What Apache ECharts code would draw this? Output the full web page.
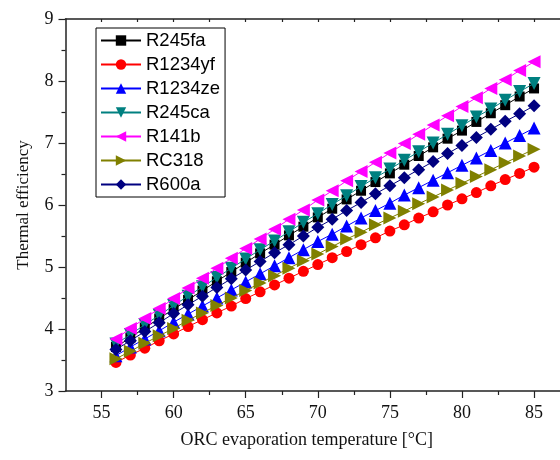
<!DOCTYPE html>
<html>
<head>
<meta charset="utf-8">
<script src="https://cdn.jsdelivr.net/npm/echarts@6/dist/echarts.min.js"></script>
<style>html,body{margin:0;padding:0;background:#fff}#c{width:560px;height:460px}</style>
</head>
<body>
<div id="c"></div>
<script>
const temps = [56,57,58,59,60,61,62,63,64,65,66,67,68,69,70,71,72,73,74,75,76,77,78,79,80,81,82,83,84,85];
const R245fa  = [3.71,3.86,4.02,4.17,4.32,4.47,4.62,4.77,4.92,5.07,5.22,5.36,5.51,5.65,5.80,5.94,6.09,6.23,6.37,6.51,6.65,6.79,6.93,7.07,7.20,7.34,7.48,7.61,7.75,7.88];
const R1234yf = [3.46,3.58,3.69,3.81,3.92,4.04,4.15,4.26,4.37,4.49,4.60,4.71,4.82,4.93,5.04,5.15,5.25,5.36,5.47,5.58,5.68,5.79,5.89,6.00,6.10,6.20,6.31,6.41,6.51,6.61];
const R1234ze = [3.57,3.71,3.84,3.97,4.11,4.24,4.37,4.50,4.63,4.76,4.89,5.02,5.15,5.28,5.41,5.53,5.66,5.79,5.91,6.03,6.16,6.28,6.40,6.52,6.64,6.76,6.88,7.00,7.12,7.24];
const R245ca  = [3.76,3.91,4.07,4.22,4.38,4.53,4.68,4.83,4.98,5.13,5.28,5.42,5.57,5.72,5.86,6.01,6.15,6.30,6.44,6.58,6.72,6.86,7.00,7.14,7.28,7.42,7.55,7.69,7.83,7.96];
const R141b   = [3.84,4.01,4.17,4.33,4.49,4.66,4.82,4.98,5.14,5.30,5.45,5.61,5.77,5.92,6.08,6.23,6.39,6.54,6.69,6.84,6.99,7.14,7.29,7.44,7.59,7.73,7.88,8.02,8.17,8.31];
const RC318   = [3.52,3.64,3.77,3.89,4.01,4.14,4.26,4.38,4.50,4.62,4.74,4.86,4.98,5.10,5.21,5.33,5.45,5.56,5.68,5.79,5.90,6.02,6.13,6.24,6.35,6.46,6.57,6.68,6.79,6.90];
const R600a   = [3.67,3.81,3.96,4.10,4.25,4.39,4.53,4.67,4.81,4.95,5.09,5.23,5.36,5.50,5.64,5.77,5.91,6.04,6.18,6.31,6.44,6.57,6.70,6.83,6.96,7.09,7.22,7.35,7.47,7.60];
const xMajorTicks = [55,60,65,70,75,80,85];
const xMinorTicks = [57.5,62.5,67.5,72.5,77.5,82.5];
const xTopTicks = [55,57.5,60,62.5,65,67.5,70,72.5,75,77.5,80,82.5,85];

const seriesDefs = [
  {name:'R245fa', data:R245fa, color:'#000000', symbol:'rect', size:10, rot:0},
  {name:'R1234yf', data:R1234yf, color:'#ff0000', symbol:'circle', size:11, rot:0},
  {name:'R1234ze', data:R1234ze, color:'#0000ff', symbol:'triangle', size:13, rot:0},
  {name:'R245ca', data:R245ca, color:'#008080', symbol:'triangle', size:13, rot:180},
  {name:'R141b', data:R141b, color:'#ff00ff', symbol:'triangle', size:13, rot:90},
  {name:'RC318', data:RC318, color:'#808000', symbol:'triangle', size:13, rot:-90},
  {name:'R600a', data:R600a, color:'#000080', symbol:'diamond', size:13, rot:0}
];

const serif = 'Liberation Serif';
const axisCol = '#222';
const chart = echarts.init(document.getElementById('c'), null, {renderer:'canvas'});
chart.setOption({
  animation:false,
  backgroundColor:'#fff',
  grid:{left:65.5, top:19, right:0, bottom:69, containLabel:false},
  legend:{
    orient:'vertical', left:96, top:28,
    itemWidth:40, itemHeight:13, itemGap:5,
    padding:[3,5,3,4],
    borderColor:'#000', borderWidth:1,
    textStyle:{fontFamily:'Liberation Sans', fontSize:18.5, color:'#000'},
    data:seriesDefs.map(s=>s.name)
  },
  xAxis:[
    {type:'value', min:52.5, max:86.8, position:'bottom',
     axisLine:{show:true, onZero:false, lineStyle:{color:axisCol, width:1.5}},
     axisTick:{show:true, inside:false, length:7, customValues:xMajorTicks, lineStyle:{color:axisCol, width:1.2}},
     axisLabel:{show:true, customValues:xMajorTicks, margin:13, fontFamily:serif, fontSize:18, color:'#111'},
     splitLine:{show:false},
     name:'ORC evaporation temperature [°C]', nameLocation:'middle', nameGap:40,
     nameTextStyle:{fontFamily:serif, fontSize:18, color:'#111', padding:[0,12,0,0]}},
    {type:'value', min:52.5, max:86.8, position:'bottom',
     axisLine:{show:false, onZero:false},
     axisTick:{show:true, inside:false, length:4, customValues:xMinorTicks, lineStyle:{color:axisCol, width:1.2}},
     axisLabel:{show:false}, splitLine:{show:false}},
    {type:'value', min:52.5, max:86.8, position:'top',
     axisLine:{show:true, onZero:false, lineStyle:{color:axisCol, width:1.5}},
     axisTick:{show:true, inside:true, length:3, customValues:xTopTicks, lineStyle:{color:axisCol, width:1.2}},
     axisLabel:{show:false}, splitLine:{show:false}}
  ],
  yAxis:[{
    type:'value', min:3, max:9, interval:1,
    axisLine:{show:true, onZero:false, lineStyle:{color:axisCol, width:1.5}},
    axisTick:{show:true, inside:false, length:7, lineStyle:{color:axisCol, width:1.2}},
    minorTick:{show:true, splitNumber:2, length:4, lineStyle:{color:axisCol, width:1.2}},
    axisLabel:{margin:12, fontFamily:serif, fontSize:18, color:'#111'},
    splitLine:{show:false},
    name:'Thermal efficiency', nameLocation:'middle', nameGap:33,
    nameTextStyle:{fontFamily:serif, fontSize:17, color:'#111'}
  }],
  series:seriesDefs.map((s,i)=>({
    name:s.name, type:'line', xAxisIndex:0, yAxisIndex:0,
    data:temps.map((t,j)=>[t, s.data[j]]),
    symbol:s.symbol, symbolSize:s.size, symbolRotate:s.rot,
    showAllSymbol:true,
    lineStyle:{color:s.color, width:1},
    itemStyle:{color:s.color, borderWidth:0},
    z:2+i*0.01
  }))
});
</script>
</body>
</html>
